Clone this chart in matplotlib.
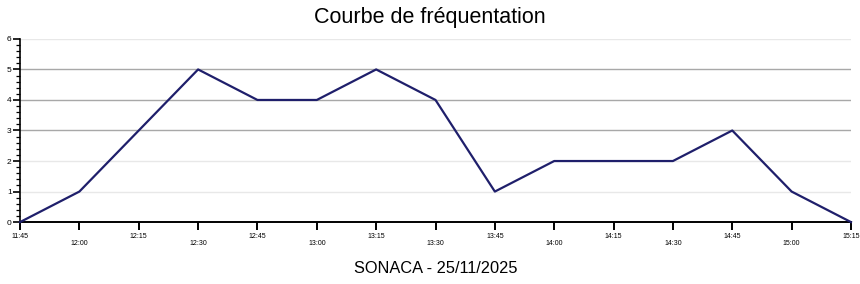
import matplotlib.pyplot as plt
from matplotlib.ticker import MultipleLocator

# Data
heures = ['11:45', '12:00', '12:15', '12:30', '12:45', '13:00', '13:15', '13:30',
          '13:45', '14:00', '14:15', '14:30', '14:45', '15:00', '15:15']
visiteurs = [0, 1, 3, 5, 4, 4, 5, 4, 1, 2, 2, 2, 3, 1, 0]
y_ticks = [0, 1, 2, 3, 4, 5, 6]

plt.rcParams['font.family'] = ['Liberation Sans', 'DejaVu Sans']

fig = plt.figure(figsize=(8.6, 2.84), dpi=100)
ax = fig.add_axes([0.0233, 0.218, 0.9662, 0.645])

x = list(range(len(heures)))

# grid lines (3, 4, 5 darker than the others)
for v in y_ticks[1:]:
    col = '#a8a8a8' if v in (3, 4, 5) else '#e8e8e8'
    ax.axhline(v, color=col, lw=1.0, zorder=1)

ax.plot(x, visiteurs, color='#1f1f6b', lw=1.6, zorder=5, clip_on=False)

ax.set_xlim(0, len(heures) - 1)
ax.set_ylim(0, 6)
ax.set_xticks(x)
ax.set_xticklabels(heures, fontsize=5)
ax.set_yticks(y_ticks)
ax.yaxis.set_minor_locator(MultipleLocator(0.2))
ax.tick_params(axis='y', which='major', length=5, width=1.2, labelsize=6, pad=1)
ax.tick_params(axis='y', which='minor', length=3, width=0.9)
ax.tick_params(axis='x', which='major', length=6, width=1.4, pad=2)

# staggered x labels
for i, t in enumerate(ax.xaxis.get_major_ticks()):
    if i % 2 == 1:
        t.set_pad(7)

for s in ['top', 'right']:
    ax.spines[s].set_visible(False)
ax.spines['left'].set_linewidth(1.2)
ax.spines['bottom'].set_linewidth(1.4)

fig.text(0.5, 0.94, 'Courbe de fréquentation', ha='center', va='center', fontsize=15.5)
fig.text(0.507, 0.055, 'SONACA - 25/11/2025', ha='center', va='center', fontsize=11.8)

fig.savefig('out.png', dpi=100)
